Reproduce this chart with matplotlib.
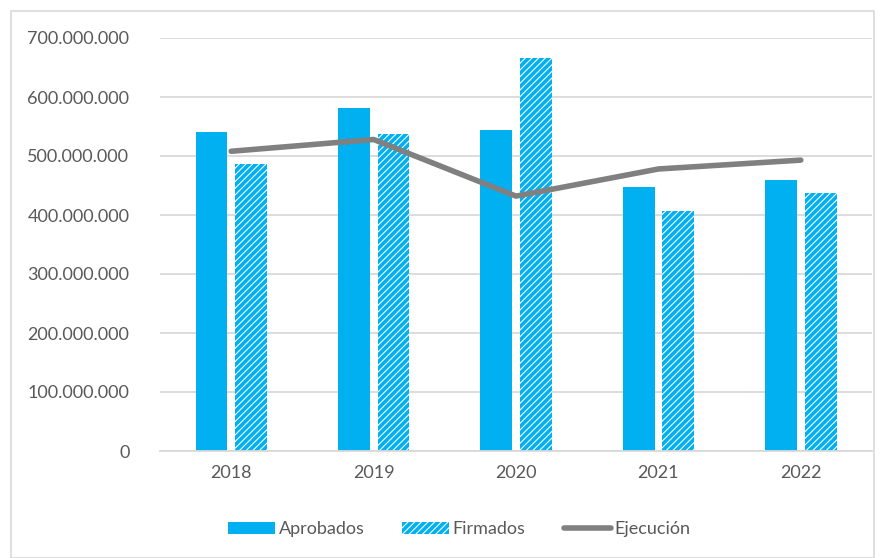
import numpy as np
import matplotlib
matplotlib.use("Agg")
import matplotlib.pyplot as plt
from matplotlib.ticker import FuncFormatter
from matplotlib.patches import Rectangle

years = ["2018", "2019", "2020", "2021", "2022"]
aprobados = [540e6, 582e6, 544e6, 448e6, 459e6]
firmados = [486e6, 537e6, 666e6, 407e6, 437e6]
ejecucion = [508e6, 528e6, 432e6, 478e6, 493e6]

blue = "#00B0F0"
gray = "#808080"
text_c = "#595959"

plt.rcParams['font.family'] = ['Lato', 'DejaVu Sans']
plt.rcParams['hatch.linewidth'] = 2.6
plt.rcParams['hatch.color'] = blue

fig = plt.figure(figsize=(8.85, 5.58), dpi=100)
ax = fig.add_axes([160/885, 1 - 451/558, 712/885, 413/558])

# light frame around the whole chart
fig.patches.append(Rectangle((11/885, 0), 1 - 22/885, 1 - 11/558, transform=fig.transFigure,
                             fill=False, edgecolor="#d9d9d9", linewidth=1.2))

x = np.arange(len(years))
w = 0.224
b1 = ax.bar(x - 0.138, aprobados, w, color=blue, label="Aprobados", zorder=2)
b2 = ax.bar(x + 0.14, firmados, w, color="white", edgecolor=blue, linewidth=0,
            hatch="/////", label="Firmados", zorder=2)
l1, = ax.plot(x, ejecucion, color=gray, linewidth=4, solid_capstyle="round",
              label="Ejecución", zorder=3)

ax.set_xlim(-0.5, len(years) - 0.5)
ax.set_ylim(0, 700e6)
ax.set_yticks(np.arange(0, 701e6, 100e6))
ax.yaxis.set_major_formatter(FuncFormatter(lambda v, p: "{:,.0f}".format(v).replace(",", ".")))
ax.set_xticks(x)
ax.set_xticklabels(years)
ax.grid(axis="y", color="#d9d9d9", linewidth=1.3, zorder=0)
ax.set_axisbelow(True)
for s in ["top", "right", "left"]:
    ax.spines[s].set_visible(False)
ax.spines["bottom"].set_color("#d9d9d9")
ax.spines["bottom"].set_linewidth(1.3)
ax.tick_params(axis="both", length=0, labelsize=13, colors=text_c, pad=10)
ax.tick_params(axis="y", pad=22)

leg = ax.legend([b1, b2, l1], ["Aprobados", "Firmados", "Ejecución"],
                loc="center", bbox_to_anchor=(0.42, -0.19), ncol=3, frameon=False,
                fontsize=13, handlelength=2.6, handleheight=0.6, handletextpad=0.2,
                columnspacing=2.1)
for t in leg.get_texts():
    t.set_color(text_c)

fig.savefig("out.png", dpi=100)
